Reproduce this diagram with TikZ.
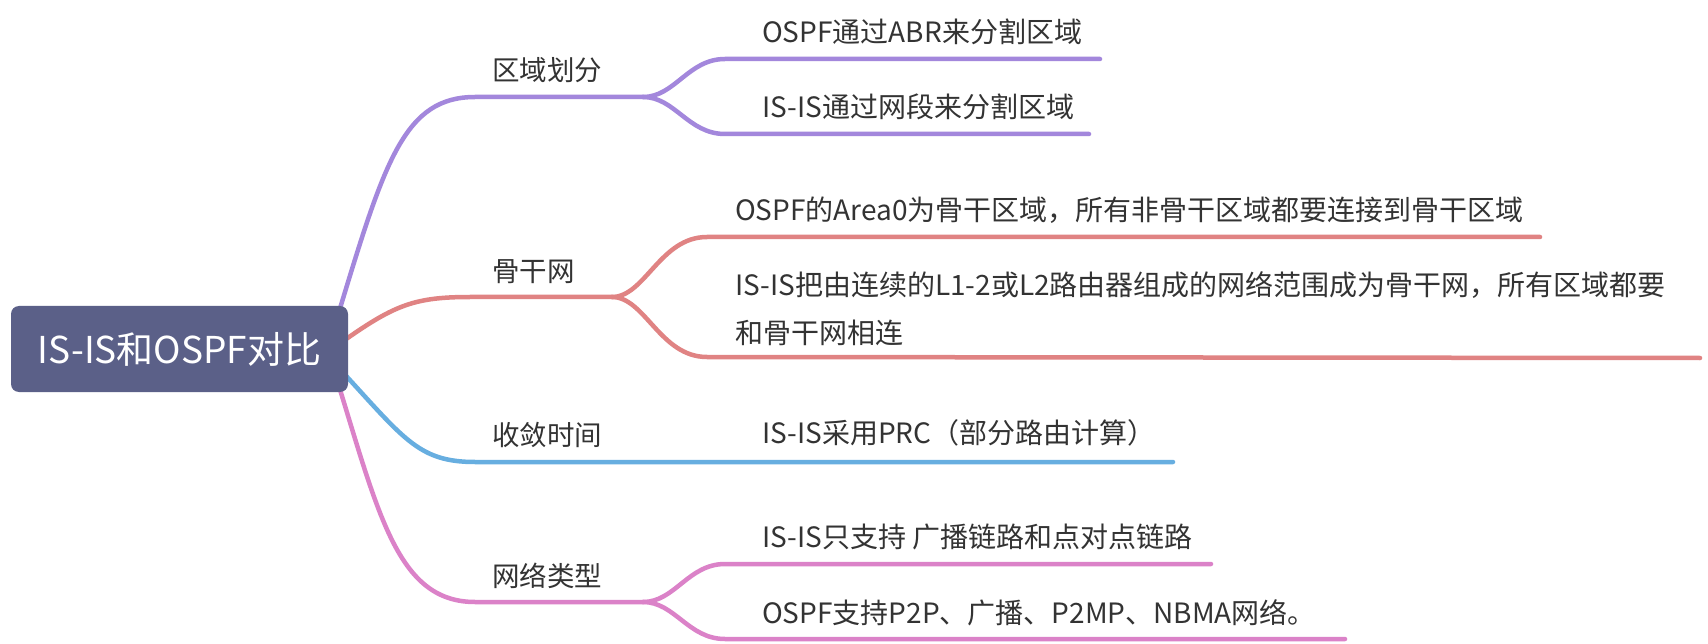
\documentclass[tikz,border=0pt]{standalone}
\usepackage{fontspec}
\setmainfont{Noto Sans CJK SC}
\definecolor{rootfill}{HTML}{5B6088}
\definecolor{txt}{HTML}{333333}
\definecolor{cpurple}{HTML}{A387DC}
\definecolor{cred}{HTML}{E08383}
\definecolor{cblue}{HTML}{67AEE0}
\definecolor{cpink}{HTML}{DB82C8}
\pgfdeclarelayer{bg}
\pgfsetlayers{bg,main}
\begin{document}
\begin{tikzpicture}[x=1pt,y=-1pt,
  conn/.style={line width=4.5pt, line cap=round},
  lbl/.style={anchor=west, inner sep=0pt, text=txt, font=\fontsize{27.5}{32}\selectfont},
  sub/.style={lbl, font=\fontsize{28}{33}\selectfont},
  rootbox/.style={fill=rootfill, rounded corners=8pt, minimum width=337pt, minimum height=86pt, inner sep=0pt, text=white, font=\fontsize{37}{44}\selectfont}]
\useasboundingbox (0,0) rectangle (1708,644);

\node[rootbox] (root) at (179.5,349) {IS-IS和OSPF对比};

% level 1 labels
\node[lbl] (b1) at (492,70) {区域划分};
\node[lbl] (b2) at (492,272) {骨干网};
\node[lbl] (b3) at (492,435) {收敛时间};
\node[lbl] (b4) at (492,576) {网络类型};

% level 2 labels
\node[sub] (c11) at (762,32) {OSPF通过ABR来分割区域};
\node[sub] (c12) at (762,107) {IS-IS通过网段来分割区域};
\node[sub] (c21) at (735,210) {OSPF的Area0为骨干区域，所有非骨干区域都要连接到骨干区域};
\node[sub, align=left, font=\fontsize{28}{48}\selectfont] (c22) at (735,309) {IS-IS把由连续的L1-2或L2路由器组成的网络范围成为骨干网，所有区域都要\\和骨干网相连};
\node[sub] (c31) at (762,433) {IS-IS采用PRC（部分路由计算）};
\node[sub] (c41) at (762,537) {IS-IS只支持 广播链路和点对点链路};
\node[sub] (c42) at (762,613) {OSPF支持P2P、广播、P2MP、NBMA网络。};

% fork points and underline ends
\coordinate (f1) at (643,97);
\coordinate (f2) at (612,297);
\coordinate (f4) at (643,602);
\coordinate (e11) at (1100,59);
\coordinate (e12) at (1089,134);
\coordinate (e21) at (1540,237);
\coordinate (e22) at (1700,358);
\coordinate (e31) at (1173,462);
\coordinate (e41) at (1211,564);
\coordinate (e42) at (1345,639);

\begin{pgfonlayer}{bg}
\fill[white] (0,0) rectangle (1708,644);
% purple
\draw[conn,cpurple] ([xshift=-8pt,yshift=-2pt]root.north east) .. controls (385,160) and (405,97) .. (475,97) -- (f1);
\draw[conn,cpurple] (f1) .. controls (675,97) and (688,59) .. (725,59) -- (e11);
\draw[conn,cpurple] (f1) .. controls (675,97) and (688,134) .. (725,134) -- (e12);
% red
\draw[conn,cred] ([xshift=-2pt,yshift=10pt]root.east) .. controls (395,305) and (415,297) .. (470,297) -- (f2);
\draw[conn,cred] (f2) .. controls (645,297) and (660,237) .. (707,237) -- (e21);
\draw[conn,cred] (f2) .. controls (645,297) and (660,357) .. (707,357) -- (e22);
% blue
\draw[conn,cblue] ([xshift=-2pt,yshift=-27pt]root.east) .. controls (405,440) and (420,462) .. (475,462) -- (e31);
% pink
\draw[conn,cpink] ([xshift=-8pt,yshift=2pt]root.south east) .. controls (380,520) and (400,602) .. (475,602) -- (f4);
\draw[conn,cpink] (f4) .. controls (675,602) and (688,564) .. (725,564) -- (e41);
\draw[conn,cpink] (f4) .. controls (675,602) and (688,639) .. (725,639) -- (e42);
\end{pgfonlayer}
\end{tikzpicture}
\end{document}
